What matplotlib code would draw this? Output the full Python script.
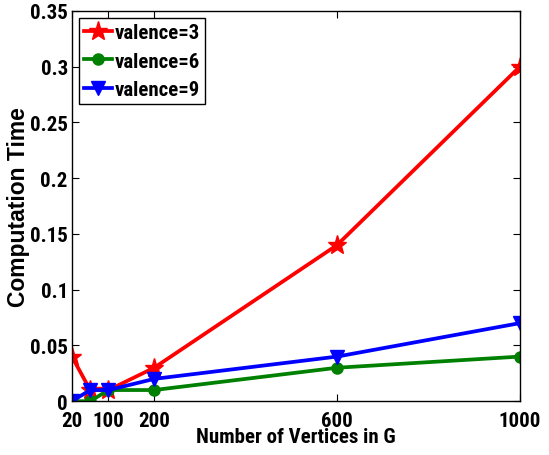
import matplotlib
matplotlib.use("Agg")
import matplotlib.pyplot as plt

plt.rcParams['font.family'] = ['Roboto Condensed', 'DejaVu Sans']
plt.rcParams['font.weight'] = 'bold'

vertices = [20, 60, 100, 200, 600, 1000]
valence3 = [0.04, 0.01, 0.01, 0.03, 0.14, 0.30]
valence6 = [0.0, 0.0, 0.01, 0.01, 0.03, 0.04]
valence9 = [0.0, 0.01, 0.01, 0.02, 0.04, 0.07]
xticks = [20, 100, 200, 600, 1000]
yticks = [0, 0.05, 0.1, 0.15, 0.2, 0.25, 0.3, 0.35]
ytick_labels = ['0', '0.05', '0.1', '0.15', '0.2', '0.25', '0.3', '0.35']

fig = plt.figure(figsize=(5.49, 4.56), dpi=100)
ax = fig.add_axes([0.131, 0.118, 0.816, 0.856])

ax.plot(vertices, valence3, color='red', lw=2.7, marker='*', ms=14, label='valence=3')
ax.plot(vertices, valence6, color='green', lw=2.7, marker='o', ms=8, label='valence=6')
ax.plot(vertices, valence9, color='blue', lw=2.7, marker='v', ms=10, label='valence=9')

ax.set_xlim(20, 1000)
ax.set_ylim(0, 0.35)
ax.set_xticks(xticks)
ax.set_xticklabels([str(v) for v in xticks])
ax.set_yticks(yticks)
ax.set_yticklabels(ytick_labels)
ax.tick_params(direction='in', top=True, right=True, labelsize=15, length=5, width=0.8)
ax.tick_params(axis='x', pad=7)
ax.tick_params(axis='y', pad=3)
for sp in ax.spines.values():
    sp.set_linewidth(1)

ax.set_xlabel('Number of Vertices in G', fontsize=15, fontweight='bold', labelpad=-2)
ax.set_ylabel('Computation Time', fontsize=16.5, fontweight='bold',
              family=['Liberation Sans', 'DejaVu Sans'], labelpad=0)

leg = ax.legend(loc='upper left', prop={'size': 15, 'weight': 'bold'}, frameon=True, fancybox=False,
                edgecolor='black', borderaxespad=0.35, handlelength=1.3,
                handletextpad=0.15, labelspacing=0.45, borderpad=0.25, framealpha=1)
leg.get_frame().set_linewidth(1)

fig.savefig('out.png', dpi=100)
